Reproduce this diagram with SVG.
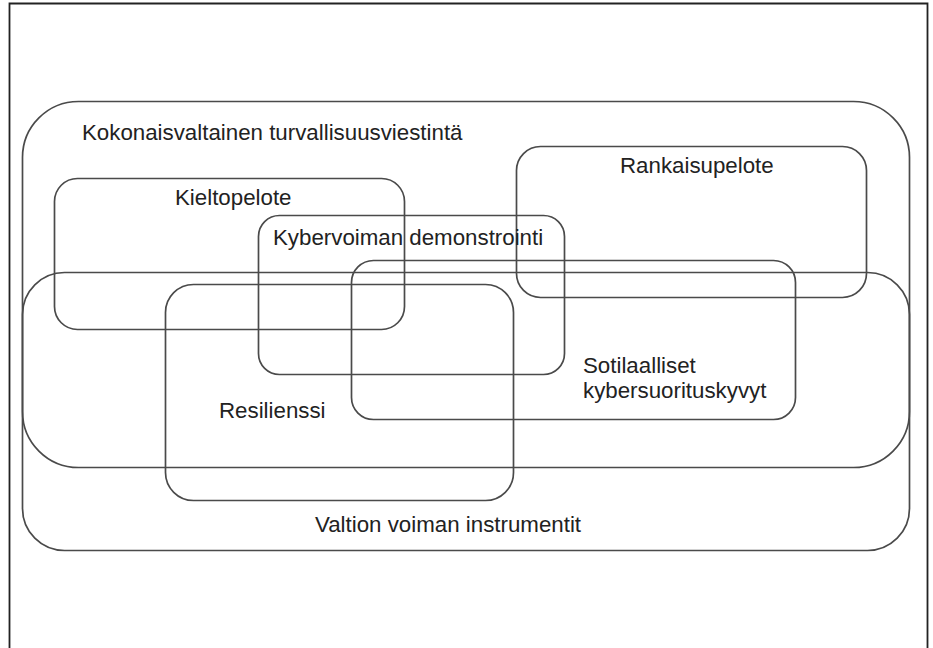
<svg xmlns="http://www.w3.org/2000/svg" width="933" height="648" viewBox="0 0 933 648">
<style>
.box{fill:none;stroke:#4a4a4a;stroke-width:1.7}
.lbl{font-family:"Liberation Sans",Arial,sans-serif;font-size:22.3px;fill:#222}
</style>
<rect x="0" y="0" width="933" height="648" fill="#fff"/>
<path d="M9.5,660 V3.5 H927.5 V660" fill="none" stroke="#222" stroke-width="1.8"/>
<g id="kokonaisvaltainen">
<rect class="box" x="22.5" y="101.5" width="887" height="366" rx="56" ry="56"/>
<text class="lbl" x="82" y="140">Kokonaisvaltainen turvallisuusviestintä</text>
</g>
<g id="valtion">
<rect class="box" x="22.5" y="272.5" width="887" height="278" rx="42" ry="42"/>
<text class="lbl" x="315" y="532">Valtion voiman instrumentit</text>
</g>
<g id="kieltopelote">
<rect class="box" x="54.5" y="178.5" width="350" height="151" rx="23" ry="23"/>
<text class="lbl" x="175" y="205">Kieltopelote</text>
</g>
<g id="rankaisupelote">
<rect class="box" x="516.5" y="146.5" width="350" height="151" rx="24" ry="24"/>
<text class="lbl" x="620" y="173">Rankaisupelote</text>
</g>
<g id="kybervoiman">
<rect class="box" x="258.5" y="215.5" width="306" height="159" rx="21" ry="21"/>
<text class="lbl" x="273" y="245">Kybervoiman demonstrointi</text>
</g>
<g id="sotilaalliset">
<rect class="box" x="351.5" y="260.5" width="444" height="159" rx="22" ry="22"/>
<text class="lbl" x="583" y="373">Sotilaalliset</text>
<text class="lbl" x="583" y="398">kybersuorituskyvyt</text>
</g>
<g id="resilienssi">
<rect class="box" x="165.5" y="284.5" width="348" height="216" rx="28" ry="28"/>
<text class="lbl" x="219" y="418">Resilienssi</text>
</g>
<g id="connectors"></g>
</svg>
